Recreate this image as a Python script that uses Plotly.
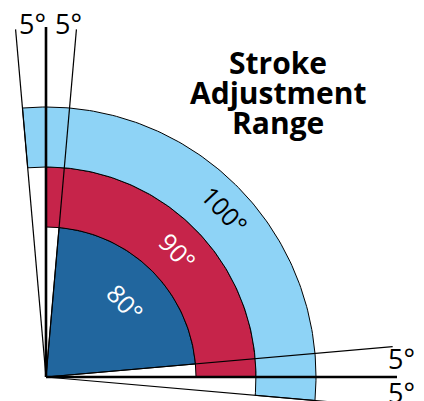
import numpy as np
import plotly.graph_objects as go

# ---- data ----
categories = ["80°", "90°", "100°"]
angle_start = [5, 0, -5]          # degrees
angle_end = [85, 90, 95]
radius_inner = [0, 150, 210]
radius_outer = [150, 210, 270]
label_radius = [109, 182, 245]
label_theta = [43.5, 43.7, 43.0]

guide_angles = [95, 90, 85, 5, 0, -5]
guide_length = [349, 350, 349, 348, 351, 351]

tick_labels = ["5°", "5°", "5°", "5°"]
title_lines = ["Stroke", "Adjustment", "Range"]

# ---- styles ----
fill_colors = ["#21669E", "#C6244A", "#8ED3F6"]
label_colors = ["white", "white", "black"]
guide_widths = [1.2, 2.6, 1.2, 1.2, 2.6, 1.2]

fig = go.Figure()

for i, cat in enumerate(categories):
    th_out = np.radians(np.linspace(angle_start[i], angle_end[i], 120))
    th_in = th_out[::-1]
    xs = list(radius_outer[i] * np.cos(th_out)) + list(radius_inner[i] * np.cos(th_in))
    ys = list(radius_outer[i] * np.sin(th_out)) + list(radius_inner[i] * np.sin(th_in))
    xs.append(xs[0]); ys.append(ys[0])
    fig.add_trace(go.Scatter(x=xs, y=ys, fill="toself", fillcolor=fill_colors[i],
                             mode="lines", line=dict(color="black", width=1),
                             hoverinfo="skip", showlegend=False))

for a, L, w in zip(guide_angles, guide_length, guide_widths):
    t = np.radians(a)
    fig.add_trace(go.Scatter(x=[0, L * np.cos(t)], y=[0, L * np.sin(t)], mode="lines",
                             line=dict(color="black", width=w), hoverinfo="skip",
                             showlegend=False))

for i, cat in enumerate(categories):
    t = np.radians(label_theta[i])
    fig.add_annotation(x=label_radius[i] * np.cos(t), y=label_radius[i] * np.sin(t),
                       text=cat, showarrow=False, textangle=90 - label_theta[i],
                       font=dict(family="Open Sans", size=25, color=label_colors[i]),
                       xanchor="center", yanchor="middle")

# degree tick labels (positions in data px units relative to origin)
tick_pos = [(-13.5, 354), (22, 354), (355, 19), (355, -15)]
for (x, y), txt in zip(tick_pos, tick_labels):
    fig.add_annotation(x=x, y=y, text=txt, showarrow=False,
                       font=dict(family="Open Sans", size=27, color="black"),
                       xanchor="center", yanchor="middle")

title_y = [315, 285, 255]
for txt, y in zip(title_lines, title_y):
    fig.add_annotation(x=232, y=y, text=txt, showarrow=False,
                       font=dict(family="Open Sans", size=30, color="black", weight=700),
                       xanchor="center", yanchor="middle")

fig.update_layout(
    width=424, height=401, margin=dict(l=0, r=0, t=0, b=0),
    paper_bgcolor="white", plot_bgcolor="white",
    xaxis=dict(range=[-46, 378], visible=False, fixedrange=True),
    yaxis=dict(range=[-24, 377], visible=False, fixedrange=True),
)

fig.write_html("out.html", config={"displayModeBar": False},
               post_script="document.body.style.margin='0';document.body.style.overflow='hidden';")
